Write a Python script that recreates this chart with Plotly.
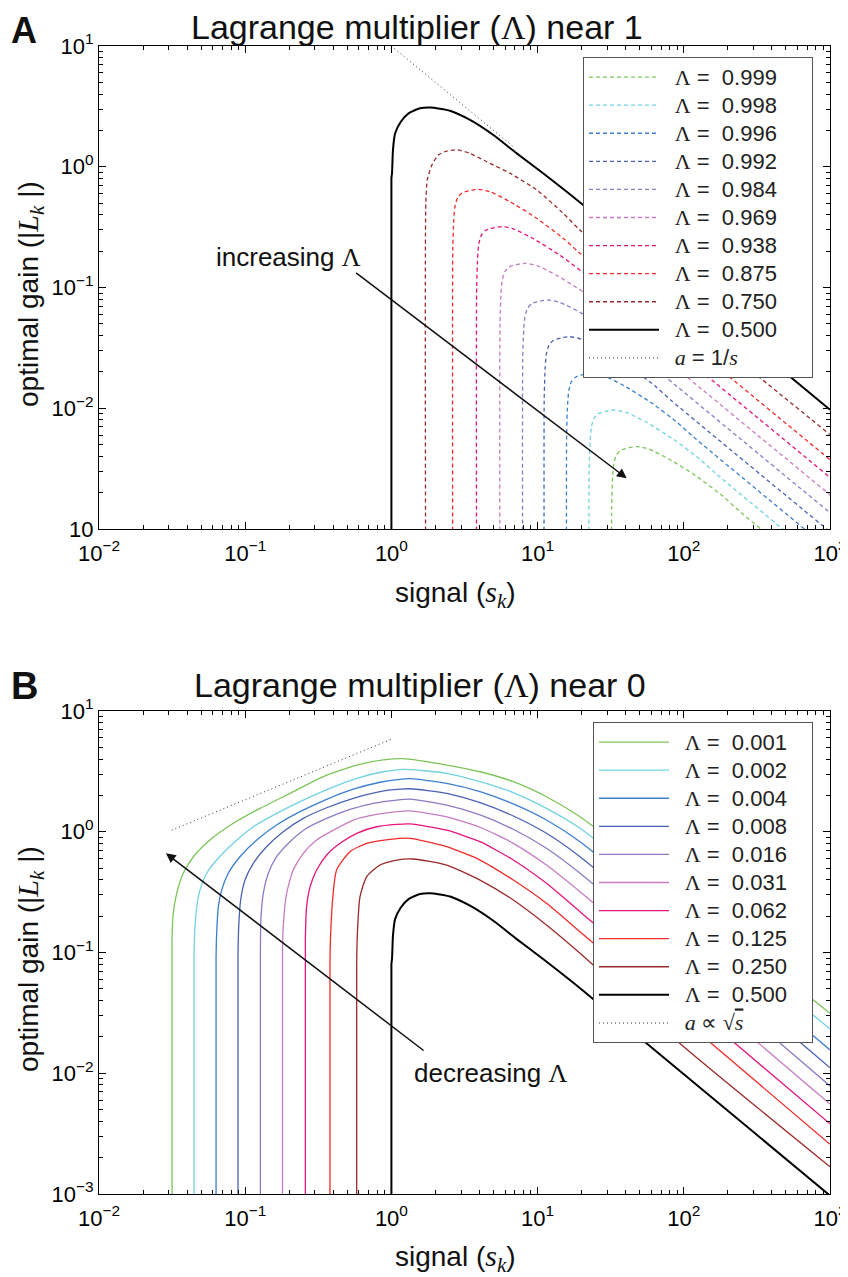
import math
import plotly.graph_objects as go

# ---------------- Panel A data (Lagrange multiplier near 1) ----------------
A_s_0999 = [32.1, 32.1, 32.6, 33.2, 34.5, 37.1, 42.1, 47.9, 57.6, 78.9, 120.3, 183, 238, 12200]
A_g_0999 = [1e-4, 0.00152, 0.00268, 0.00346, 0.00408, 0.00449, 0.00471, 0.00481, 0.00460, 0.0038, 0.00277, 0.00189, 0.00142, 0.0000278]
A_s_0998 = [22.5, 22.5, 22.9, 23.3, 24.2, 26.0, 29.5, 33.6, 40.4, 55.4, 84.4, 128.4, 166.9, 8560]
A_g_0998 = [1e-4, 0.00305, 0.00539, 0.00695, 0.0082, 0.00903, 0.00946, 0.00967, 0.00924, 0.00765, 0.00557, 0.00379, 0.00286, 0.0000558]
A_s_0996 = [15.8, 15.8, 16.05, 16.35, 17.0, 18.27, 20.7, 23.6, 28.4, 38.9, 59.3, 90.2, 117.2, 6010]
A_g_0996 = [1e-4, 0.00614, 0.01084, 0.01398, 0.0165, 0.01817, 0.01904, 0.01946, 0.01859, 0.01539, 0.0112, 0.00763, 0.00575, 0.000112]
A_s_0992 = [11.1, 11.1, 11.27, 11.48, 11.94, 12.83, 14.56, 16.58, 19.9, 27.3, 41.6, 63.3, 82.3, 4220]
A_g_0992 = [1e-4, 0.01234, 0.0218, 0.0281, 0.0332, 0.03654, 0.0383, 0.0391, 0.0374, 0.0309, 0.0225, 0.01535, 0.01156, 0.000226]
A_s_0984 = [7.91, 7.91, 8.03, 8.18, 8.51, 9.14, 10.38, 11.82, 14.2, 19.5, 29.7, 45.1, 58.7, 3008]
A_g_0984 = [1e-4, 0.0248, 0.0439, 0.0566, 0.0668, 0.0736, 0.0771, 0.0788, 0.0753, 0.0623, 0.0453, 0.0309, 0.0233, 0.000455]
A_s_0969 = [5.53, 5.53, 5.62, 5.72, 5.95, 6.39, 7.26, 8.26, 9.93, 13.6, 20.7, 31.5, 41.0, 2103]
A_g_0969 = [1e-4, 0.05, 0.0883, 0.114, 0.1344, 0.1481, 0.1552, 0.1586, 0.1515, 0.1254, 0.0913, 0.0622, 0.0468, 0.000915]
A_s_0938 = [3.83, 3.83, 3.89, 3.96, 4.12, 4.43, 5.02, 5.72, 6.87, 9.42, 14.36, 21.8, 28.4, 1456]
A_g_0938 = [1e-4, 0.1007, 0.1777, 0.2293, 0.2705, 0.298, 0.3123, 0.319, 0.305, 0.2524, 0.1836, 0.1252, 0.0943, 0.00184]
A_s_0875 = [2.63, 2.63, 2.67, 2.72, 2.83, 3.04, 3.45, 3.93, 4.72, 6.47, 9.86, 15.0, 19.5, 1000]
A_g_0875 = [1e-4, 0.205, 0.362, 0.467, 0.551, 0.607, 0.636, 0.650, 0.621, 0.514, 0.374, 0.255, 0.192, 0.00375]
A_s_0750 = [1.72, 1.72, 1.76, 1.89, 2.09, 2.39, 2.80, 3.45, 4.49, 6.47, 9.86, 15.0, 19.5, 1000]
A_g_0750 = [1e-4, 0.5, 0.777, 1.03, 1.25, 1.35, 1.38, 1.29, 1.10, 0.883, 0.642, 0.411, 0.299, 0.00605]
A_s_0500 = [1.0, 1.0, 1.01, 1.025, 1.06, 1.16, 1.31, 1.57, 1.84, 2.52, 3.45, 4.98, 7.20, 10.9, 20.1, 1000]
A_g_0500 = [1e-4, 0.8, 0.888, 1.38, 1.89, 2.36, 2.77, 3.05, 3.10, 2.91, 2.44, 1.83, 1.29, 0.883, 0.492, 0.0097]
A_s_ref = [1.0, 6.8]
A_g_ref = [10.0, 1.47]

# ---------------- Panel B data (Lagrange multiplier near 0) ----------------
B_s_0001 = [0.0316, 0.0316, 0.0322, 0.0340, 0.0377, 0.0442, 0.0574, 0.0829, 0.1263, 0.2025, 0.342, 0.579, 0.880, 1.206, 2.39, 4.04, 6.82, 11.5, 19.5, 1000]
B_g_0001 = [1e-4, 0.13, 0.211, 0.309, 0.453, 0.621, 0.855, 1.175, 1.56, 2.08, 2.86, 3.57, 3.93, 4.03, 3.57, 3.14, 2.60, 1.95, 1.33, 0.0314]
B_s_0002 = [0.0447, 0.0447, 0.0451, 0.0466, 0.0491, 0.0545, 0.0638, 0.0829, 0.1136, 0.164, 0.2496, 0.380, 0.579, 0.880, 1.206, 2.39, 4.04, 6.82, 11.5, 19.5, 1000]
B_g_0002 = [1e-4, 0.1, 0.144, 0.239, 0.330, 0.453, 0.583, 0.802, 1.10, 1.42, 1.83, 2.29, 2.77, 3.14, 3.29, 3.05, 2.60, 2.11, 1.56, 1.068, 0.0233]
B_s_0004 = [0.0632, 0.0632, 0.0638, 0.0655, 0.0691, 0.0766, 0.0921, 0.120, 0.164, 0.237, 0.361, 0.549, 0.836, 1.145, 1.34, 2.39, 4.04, 6.82, 11.5, 19.5, 1000]
B_g_0004 = [1e-4, 0.09, 0.144, 0.239, 0.330, 0.453, 0.621, 0.855, 1.137, 1.466, 1.857, 2.25, 2.57, 2.72, 2.75, 2.52, 2.15, 1.70, 1.25, 0.827, 0.0156]
B_s_0008 = [0.0893, 0.0893, 0.0903, 0.0931, 0.0997, 0.1136, 0.140, 0.182, 0.2496, 0.361, 0.549, 0.836, 1.145, 1.34, 2.39, 4.04, 6.82, 11.5, 19.5, 1000]
B_g_0008 = [1e-4, 0.1, 0.164, 0.272, 0.398, 0.548, 0.752, 1.0, 1.29, 1.58, 1.89, 2.15, 2.25, 2.27, 2.08, 1.74, 1.35, 0.971, 0.621, 0.0111]
B_s_0016 = [0.127, 0.127, 0.128, 0.133, 0.144, 0.164, 0.2025, 0.263, 0.361, 0.521, 0.752, 1.087, 1.34, 2.39, 4.04, 6.82, 11.5, 19.5, 1000]
B_g_0016 = [1e-4, 0.1, 0.186, 0.309, 0.453, 0.621, 0.827, 1.068, 1.29, 1.53, 1.72, 1.83, 1.86, 1.665, 1.38, 1.048, 0.729, 0.453, 0.00785]
B_s_0031 = [0.180, 0.180, 0.182, 0.192, 0.213, 0.2496, 0.308, 0.401, 0.549, 0.793, 1.087, 1.34, 2.39, 4.04, 6.82, 11.5, 19.5, 1000]
B_g_0031 = [1e-4, 0.1, 0.164, 0.309, 0.482, 0.663, 0.855, 1.03, 1.25, 1.39, 1.47, 1.49, 1.33, 1.09, 0.802, 0.530, 0.319, 0.00556]
B_s_0062 = [0.258, 0.258, 0.263, 0.278, 0.308, 0.361, 0.445, 0.579, 0.793, 1.087, 1.34, 2.39, 4.04, 6.82, 11.5, 19.5, 1000]
B_g_0062 = [1e-4, 0.13, 0.239, 0.351, 0.482, 0.642, 0.802, 0.971, 1.10, 1.15, 1.16, 1.03, 0.827, 0.583, 0.374, 0.218, 0.00381]
B_s_0125 = [0.380, 0.380, 0.383, 0.396, 0.422, 0.521, 0.678, 0.978, 1.34, 2.39, 4.04, 6.82, 11.5, 19.5, 1000]
B_g_0125 = [1e-4, 0.08, 0.127, 0.272, 0.482, 0.684, 0.802, 0.866, 0.883, 0.752, 0.583, 0.398, 0.2555, 0.1486, 0.00258]
B_s_0250 = [0.579, 0.579, 0.584, 0.610, 0.678, 0.836, 1.087, 1.41, 2.39, 4.04, 6.82, 11.5, 19.5, 96.8, 1000]
B_g_0250 = [1e-4, 0.08, 0.135, 0.290, 0.425, 0.530, 0.583, 0.595, 0.530, 0.398, 0.272, 0.169, 0.0985, 0.01714, 0.00168]
B_s_0500 = [1.0, 1.0, 1.01, 1.025, 1.06, 1.16, 1.31, 1.57, 1.84, 2.52, 3.45, 4.98, 7.20, 10.9, 20.1, 1000]
B_g_0500 = [1e-5, 0.08, 0.0888, 0.138, 0.189, 0.236, 0.277, 0.305, 0.310, 0.291, 0.244, 0.183, 0.129, 0.0883, 0.0492, 0.00097]
B_s_ref = [0.0314, 1.0]
B_g_ref = [1.03, 5.84]

A_labels = ["0.999", "0.998", "0.996", "0.992", "0.984", "0.969", "0.938", "0.875", "0.750", "0.500"]
B_labels = ["0.001", "0.002", "0.004", "0.008", "0.016", "0.031", "0.062", "0.125", "0.250", "0.500"]
colors = ["#7cc55a", "#72d2e2", "#3d7fd0", "#4a62b4", "#8f79c4", "#c77cc4",
          "#e5147c", "#f22a2a", "#9a2a2a", "#000000"]

tick_vals_x = [0.01, 0.1, 1, 10, 100, 1000]
tick_text_x = ["10<sup>−2</sup>", "10<sup>−1</sup>", "10<sup>0</sup>", "10<sup>1</sup>", "10<sup>2</sup>", "10<sup>3</sup>"]
tick_vals_y = [0.001, 0.01, 0.1, 1, 10]
tick_text_yA = ["10", "10<sup>−2</sup>", "10<sup>−1</sup>", "10<sup>0</sup>", "10<sup>1</sup>"]
tick_text_yB = ["10<sup>−3</sup>", "10<sup>−2</sup>", "10<sup>−1</sup>", "10<sup>0</sup>", "10<sup>1</sup>"]

# arrows (data units: tail -> head)
arrowA_tail = (0.56, 0.135)
arrowA_head = (40.7, 0.00263)
arrowB_tail = (1.70, 0.0151)
arrowB_head = (0.0287, 0.663)

SERIF = "Liberation Serif"
SANS = "Liberation Sans"
LAM = f"<span style='font-family:{SERIF}'>Λ</span>"
NB = "\u00a0"
THIN = "\u2009"

A_series = [(A_s_0999, A_g_0999), (A_s_0998, A_g_0998), (A_s_0996, A_g_0996), (A_s_0992, A_g_0992),
            (A_s_0984, A_g_0984), (A_s_0969, A_g_0969), (A_s_0938, A_g_0938), (A_s_0875, A_g_0875),
            (A_s_0750, A_g_0750), (A_s_0500, A_g_0500)]
B_series = [(B_s_0001, B_g_0001), (B_s_0002, B_g_0002), (B_s_0004, B_g_0004), (B_s_0008, B_g_0008),
            (B_s_0016, B_g_0016), (B_s_0031, B_g_0031), (B_s_0062, B_g_0062), (B_s_0125, B_g_0125),
            (B_s_0250, B_g_0250), (B_s_0500, B_g_0500)]


def leg_name(body, tail):
    return f"{NB}{NB}<span style='font-size:22px'>{body}</span>{tail}"


TAIL_A = NB * 4 + THIN + THIN
TAIL_B = NB * 3 + THIN

fig = go.Figure()

for (s, g), lab, col in zip(A_series, A_labels, colors):
    black = col == "#000000"
    fig.add_trace(go.Scatter(
        x=s, y=g, mode="lines", xaxis="x", yaxis="y", legend="legend",
        name=leg_name(f"{LAM} ={NB}{NB}{lab}", TAIL_A),
        line=dict(color=col, width=2 if black else 1.3, dash="solid" if black else "4px,3px",
                  shape="spline", smoothing=0.6)))
fig.add_trace(go.Scatter(
    x=A_s_ref, y=A_g_ref, mode="lines", xaxis="x", yaxis="y", legend="legend",
    name=leg_name(f"<span style='font-family:{SERIF}'><i>a</i></span> = 1/<span style='font-family:{SERIF}'><i>s</i></span>", TAIL_A),
    line=dict(color="#333333", width=1, dash="1px,3px")))

for (s, g), lab, col in zip(B_series, B_labels, colors):
    black = col == "#000000"
    fig.add_trace(go.Scatter(
        x=s, y=g, mode="lines", xaxis="x2", yaxis="y2", legend="legend2",
        name=leg_name(f"{LAM} ={NB}{NB}{lab}", TAIL_B),
        line=dict(color=col, width=2 if black else 1.3, shape="spline", smoothing=0.6)))
fig.add_trace(go.Scatter(
    x=B_s_ref, y=B_g_ref, mode="lines", xaxis="x2", yaxis="y2", legend="legend2",
    name=leg_name(f"<span style='font-family:{SERIF}'><i>a</i> ∝ √<span style='text-decoration:overline'><i>s</i></span></span>", TAIL_B),
    line=dict(color="#333333", width=1, dash="1px,3px")))

# page is offset by the browser's default 8px body margin
OFF = 8
W, H = 848 - OFF, 1277 - OFF
L, R = 99, 830
A_top, A_bot = 46, 529
B_top, B_bot = 711, 1194


def px(x):
    return (x - OFF) / W


def py(y):
    return 1 - (y - OFF) / H


minor_x = [m * 10.0 ** e for e in range(-2, 3) for m in range(2, 10)]
minor_y = [m * 10.0 ** e for e in range(-3, 1) for m in range(2, 10)]

TICKFONT = dict(family=SANS, size=22, color="black")


def xax(anchor):
    return dict(type="log", range=[-2, 3], domain=[px(L), px(R)], anchor=anchor, automargin=False,
                tickmode="array", tickvals=tick_vals_x, ticktext=tick_text_x,
                ticks="inside", ticklen=7, tickwidth=1, tickcolor="black", ticklabelstandoff=4,
                minor=dict(tickmode="array", tickvals=minor_x, ticks="inside", ticklen=4,
                           tickcolor="black", tickwidth=1, showgrid=False),
                showline=True, linecolor="black", linewidth=1.2, mirror="allticks",
                showgrid=False, zeroline=False, tickfont=TICKFONT)


def yax(anchor, top, bot, ttext):
    return dict(type="log", range=[-3, 1], domain=[py(bot), py(top)], anchor=anchor, automargin=False,
                tickmode="array", tickvals=tick_vals_y, ticktext=ttext,
                ticks="inside", ticklen=7, tickwidth=1, tickcolor="black",
                minor=dict(tickmode="array", tickvals=minor_y, ticks="inside", ticklen=4,
                           tickcolor="black", tickwidth=1, showgrid=False),
                showline=True, linecolor="black", linewidth=1.2, mirror="allticks",
                showgrid=False, zeroline=False, tickfont=TICKFONT)


def legend_cfg(x_px, y_px):
    return dict(x=px(x_px), y=py(y_px), xanchor="left", yanchor="top",
                bgcolor="white", bordercolor="#555555", borderwidth=1,
                font=dict(family=SANS, size=19.3, color="#222222"),
                itemwidth=70, tracegroupgap=0)


def txt(text, x, y, size=22, angle=0, anchor="center"):
    return dict(text=text, x=px(x), y=py(y), xref="paper", yref="paper", showarrow=False,
                xanchor=anchor, yanchor="middle", textangle=angle,
                font=dict(family=SANS, size=size, color="#111111"))


sk = f"<span style='font-family:{SERIF};font-size:30px'><i>s<sub>k</sub></i></span>"
Lk = f"<span style='font-family:{SERIF};font-size:30px'><i>L<sub>k</sub></i></span>"

annotations = [
    txt(f"Lagrange multiplier ({LAM}) near 1", 417, 27.5, size=34),
    txt(f"Lagrange multiplier ({LAM}) near 0", 420, 685, size=34),
    txt("<b>A</b>", 9, 30, size=36, anchor="left"),
    txt("<b>B</b>", 9, 686, size=38, anchor="left"),
    txt(f"signal ({sk})", 455, 594, size=28),
    txt(f"signal ({sk})", 455, 1258, size=28),
    txt(f"optimal gain (|{Lk} |)", 30, 294, size=28, angle=-90),
    txt(f"optimal gain (|{Lk} |)", 30, 959, size=28, angle=-90),
    txt(f"increasing {LAM}", 288, 257, size=26),
    txt(f"decreasing {LAM}", 491, 1073, size=26),
]

annotations.append(dict(x=math.log10(arrowA_head[0]), y=math.log10(arrowA_head[1]),
                        ax=math.log10(arrowA_tail[0]), ay=math.log10(arrowA_tail[1]),
                        xref="x", yref="y", axref="x", ayref="y", text="", showarrow=True,
                        arrowhead=2, arrowsize=1.3, arrowwidth=1.5, arrowcolor="#111"))
annotations.append(dict(x=math.log10(arrowB_head[0]), y=math.log10(arrowB_head[1]),
                        ax=math.log10(arrowB_tail[0]), ay=math.log10(arrowB_tail[1]),
                        xref="x2", yref="y2", axref="x2", ayref="y2", text="", showarrow=True,
                        arrowhead=2, arrowsize=1.3, arrowwidth=1.5, arrowcolor="#111"))

fig.update_layout(
    width=W, height=H, margin=dict(l=0, r=0, t=0, b=0, autoexpand=False),
    paper_bgcolor="white", plot_bgcolor="white",
    xaxis=xax("y"), yaxis=yax("x", A_top, A_bot, tick_text_yA),
    xaxis2=xax("y2"), yaxis2=yax("x2", B_top, B_bot, tick_text_yB),
    legend=legend_cfg(583, 57), legend2=legend_cfg(593, 722),
    annotations=annotations, showlegend=True,
)

fig.write_html("out.html")
